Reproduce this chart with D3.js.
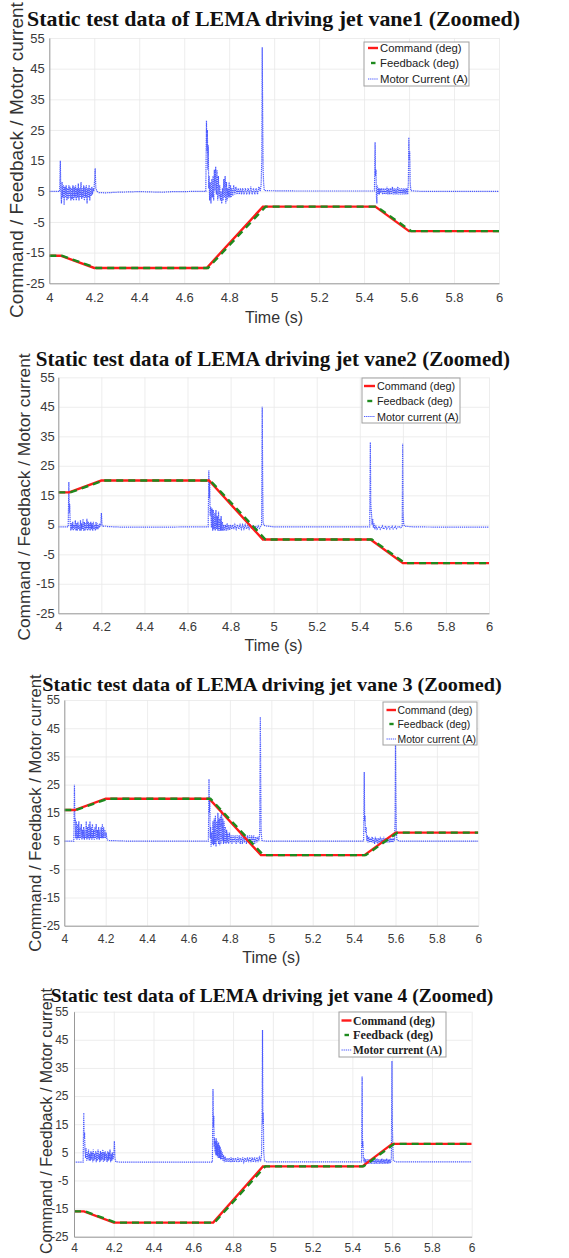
<!DOCTYPE html>
<html><head><meta charset="utf-8">
<script src="https://cdn.jsdelivr.net/npm/d3@7"></script>
<style>body{margin:0;background:#fff}svg{display:block}</style>
</head><body>
<svg id="chart" width="569" height="1258"></svg>
<script>
// ---------------- DATA ----------------
const titles = [
  "Static test data of LEMA driving jet vane1 (Zoomed)",
  "Static test data of LEMA driving jet vane2 (Zoomed)",
  "Static test data of LEMA driving jet vane 3 (Zoomed)",
  "Static test data of LEMA driving jet vane 4 (Zoomed)"
];
const yAxisLabel = "Command / Feedback / Motor current";
const xAxisLabel = "Time (s)";
const xTickValues = [4, 4.2, 4.4, 4.6, 4.8, 5, 5.2, 5.4, 5.6, 5.8, 6];
const xTickLabels = ["4", "4.2", "4.4", "4.6", "4.8", "5", "5.2", "5.4", "5.6", "5.8", "6"];
const yTickValues = [-25, -15, -5, 5, 15, 25, 35, 45, 55];
const yTickLabels = ["-25", "-15", "-5", "5", "15", "25", "35", "45", "55"];
const legend1 = ["Command (deg)", "Feedback (deg)", "Motor Current (A)"];
const legend2 = ["Command (deg)", "Feedback (deg)", "Motor current (A)"];
const legend3 = ["Command (deg)", "Feedback (deg)", "Motor current (A)"];
const legend4 = ["Command (deg)", "Feedback (deg)", "Motor current (A)"];

// Command / feedback [time, deg]
const command1 = [[4,-16],[4.05,-16],[4.2,-20],[4.7,-20],[4.95,0],[5.45,0],[5.6,-8],[6,-8]];
const feedback1 = [[4,-16],[4.056,-16],[4.21,-20],[4.706,-20],[4.962,0],[5.456,0],[5.61,-8],[6,-8]];
const command2 = [[4,16],[4.05,16],[4.2,20],[4.7,20],[4.95,0],[5.45,0],[5.6,-8],[6,-8]];
const feedback2 = [[4,16],[4.056,16],[4.21,20],[4.706,20],[4.962,0],[5.456,0],[5.61,-8],[6,-8]];
const command3 = [[4,16],[4.05,16],[4.2,20],[4.7,20],[4.95,0],[5.45,0],[5.6,8],[6,8]];
const feedback3 = [[4,16],[4.056,16],[4.21,20],[4.706,20],[4.962,0],[5.456,0],[5.61,8],[6,8]];
const command4 = [[4,-16],[4.05,-16],[4.2,-20],[4.7,-20],[4.95,0],[5.45,0],[5.6,8],[6,8]];
const feedback4 = [[4,-16],[4.056,-16],[4.21,-20],[4.706,-20],[4.962,0],[5.456,0],[5.61,8],[6,8]];

// Motor current [time, A]
const current1 = [[4.000,5.0],[4.046,5.0],[4.049,15],[4.051,6],[4.054,1],[4.057,8],[4.060,3],[4.063,7],[4.066,0.5],[4.069,6.5],[4.072,3],[4.075,7],[4.078,2],[4.081,6],[4.084,2.5],[4.087,7],[4.090,3],[4.093,6.5],[4.096,2],[4.099,6],[4.102,2.5],[4.105,7],[4.108,2],[4.111,6.5],[4.114,3],[4.117,7],[4.120,2],[4.123,6],[4.126,3],[4.129,7.5],[4.132,2],[4.135,6],[4.138,3],[4.141,8],[4.144,2.5],[4.147,6],[4.150,3],[4.153,7],[4.156,2],[4.159,6.5],[4.162,3],[4.165,7],[4.168,1],[4.171,6],[4.174,3],[4.177,7],[4.180,2],[4.183,6],[4.186,3.5],[4.189,6.5],[4.192,4],[4.195,6],[4.198,5],[4.201,8],[4.204,12.5],[4.207,6],[4.212,5],[4.22,4.6],[4.25,4.5],[4.30,4.7],[4.35,4.8],[4.40,4.9],[4.45,4.8],[4.50,4.7],[4.55,4.9],[4.60,4.9],[4.65,5.0],[4.696,5.0],
[4.699,28],[4.701,18],[4.703,25],[4.705,12],[4.707,20],[4.709,6],[4.711,10],[4.713,2],[4.716,8],[4.719,1],[4.722,9],[4.725,3],[4.728,10],[4.731,2],[4.734,12],[4.737,5],[4.740,13],[4.743,4],[4.746,12],[4.749,2],[4.752,10],[4.755,3],[4.758,7],[4.761,2],[4.764,5],[4.767,1],[4.770,6],[4.773,2],[4.776,9],[4.779,3],[4.782,10],[4.785,1],[4.788,8],[4.791,2],[4.794,6],[4.797,3],[4.800,8],[4.803,3],[4.806,7],[4.809,3],[4.812,6],[4.816,3.5],[4.820,7],[4.825,4],[4.830,6.5],[4.835,4],[4.840,6],[4.845,4],[4.850,6],[4.855,4],[4.860,6],[4.866,4],[4.872,6],[4.878,4],[4.884,6],[4.890,4],[4.896,6.5],[4.902,4],[4.908,6],[4.914,4],[4.920,6],[4.926,4],[4.932,6.5],[4.938,5],[4.942,7],[4.945,15],[4.947,52],[4.949,30],[4.951,12],[4.953,8],[4.956,5.3],[4.97,5.2],[5.1,5.1],[5.3,5.1],[5.446,5.1],
[5.449,21],[5.451,10],[5.453,12],[5.455,3],[5.457,1],[5.459,7],[5.462,4],[5.465,6],[5.468,4],[5.471,6],[5.474,4.5],[5.478,6],[5.482,4],[5.486,6],[5.490,4],[5.494,6],[5.498,4],[5.502,6.5],[5.506,4],[5.510,6],[5.514,4],[5.518,6],[5.522,4],[5.526,6.5],[5.530,4],[5.534,6],[5.538,4],[5.542,6],[5.546,4],[5.550,6.5],[5.554,4],[5.558,6],[5.562,4],[5.566,6],[5.570,4],[5.574,6],[5.578,4],[5.582,6],[5.586,4],[5.590,6],[5.594,4],[5.597,8],[5.599,22.5],[5.601,15],[5.603,18],[5.605,8],[5.608,5.2],[5.65,5.0],[6.0,5.0]];

const current2 = [[4.000,4.3],[4.046,4.3],[4.049,19.5],[4.051,9],[4.053,12],[4.055,6],[4.058,3],[4.061,5.5],[4.064,3.5],[4.067,6],[4.070,3],[4.073,5],[4.076,3.5],[4.079,6.5],[4.082,3],[4.085,5.5],[4.088,3],[4.091,6],[4.094,3.5],[4.097,5],[4.100,3],[4.103,6.5],[4.106,3],[4.109,5.5],[4.112,3.5],[4.115,7],[4.118,3],[4.121,6],[4.124,3],[4.127,5.5],[4.130,3.5],[4.133,7],[4.136,3],[4.139,6],[4.142,3.5],[4.145,5.5],[4.148,3],[4.151,6],[4.154,3.5],[4.157,5.5],[4.160,3],[4.163,6],[4.166,3.5],[4.169,5],[4.172,3],[4.175,6],[4.178,3.5],[4.181,5.5],[4.184,3.5],[4.187,5],[4.190,4],[4.193,5.5],[4.197,4.5],[4.200,9],[4.203,5],[4.207,4.5],[4.215,4.6],[4.23,4.4],[4.30,4.2],[4.40,4.2],[4.50,4.2],[4.60,4.3],[4.696,4.3],
[4.699,23.5],[4.701,14],[4.703,20],[4.705,8],[4.708,11],[4.711,4],[4.714,10.5],[4.717,3],[4.720,10],[4.723,3.5],[4.726,9],[4.729,3],[4.732,10],[4.735,3.5],[4.738,8],[4.741,3],[4.744,9.5],[4.747,3],[4.750,7],[4.753,3],[4.756,8],[4.759,3],[4.762,6],[4.765,3],[4.768,5],[4.772,3],[4.776,5],[4.780,3],[4.784,5.5],[4.788,3.2],[4.792,5],[4.796,3.3],[4.800,5],[4.805,3.5],[4.810,5],[4.815,3.5],[4.820,5],[4.826,3.5],[4.832,5],[4.838,3.5],[4.844,5],[4.850,3.5],[4.856,5],[4.862,3.6],[4.868,5],[4.874,3.6],[4.880,4.8],[4.886,3.6],[4.892,4.8],[4.898,3.6],[4.904,4.8],[4.910,3.6],[4.916,4.6],[4.922,3.6],[4.928,4.6],[4.934,3.8],[4.940,4.5],[4.944,5],[4.947,45],[4.949,20],[4.951,6],[4.955,4.8],[4.965,4.6],[5.0,4.3],[5.2,4.3],[5.446,4.3],
[5.449,33],[5.451,12],[5.453,10],[5.455,8],[5.457,5],[5.460,7],[5.463,4],[5.466,5.5],[5.470,3.5],[5.475,4.5],[5.480,3.5],[5.490,4.5],[5.495,3.5],[5.505,4.6],[5.510,3.5],[5.520,4.6],[5.525,3.6],[5.535,4.6],[5.540,3.6],[5.550,4.5],[5.555,3.6],[5.565,4.5],[5.570,3.7],[5.580,4.5],[5.590,4.0],[5.597,4.5],[5.599,32.5],[5.601,10],[5.604,5],[5.61,4.5],[5.65,4.3],[5.8,4.2],[6.0,4.2]];

const current3 = [[4.000,5],[4.046,5],[4.049,25],[4.051,12],[4.053,13],[4.055,6],[4.058,12],[4.061,5.5],[4.064,11],[4.067,6],[4.070,12],[4.073,5.5],[4.076,10],[4.079,6],[4.082,11],[4.085,5.5],[4.088,9],[4.091,6],[4.094,10],[4.097,5.5],[4.100,9],[4.103,6],[4.106,12],[4.109,5.5],[4.112,10],[4.115,6],[4.118,11],[4.121,5.5],[4.124,12],[4.127,6],[4.130,10],[4.133,5.5],[4.136,11],[4.139,6],[4.142,9],[4.145,5.5],[4.148,10],[4.151,6],[4.154,11],[4.157,5.5],[4.160,9],[4.163,6],[4.166,10],[4.169,5.5],[4.172,9],[4.175,6],[4.178,10],[4.181,6],[4.184,11],[4.187,6],[4.190,10],[4.193,6],[4.196,9],[4.199,6],[4.202,8],[4.206,5.5],[4.215,5.2],[4.30,5],[4.696,5],
[4.699,27],[4.701,15],[4.703,20],[4.705,6],[4.707,10],[4.709,3],[4.712,8],[4.715,4],[4.718,12],[4.721,3.5],[4.724,13],[4.727,4],[4.730,14],[4.733,3],[4.736,12],[4.739,5],[4.742,15],[4.745,4],[4.748,13],[4.751,3.5],[4.754,14],[4.757,4],[4.760,16],[4.763,5],[4.766,13],[4.769,4],[4.772,12],[4.775,4.5],[4.778,10],[4.781,4],[4.784,9],[4.787,4.5],[4.790,8],[4.794,4],[4.798,8],[4.802,4.5],[4.806,7],[4.810,4],[4.815,7],[4.820,4.5],[4.825,7],[4.830,4],[4.835,7],[4.840,4.5],[4.845,7],[4.850,4],[4.855,7.5],[4.860,4],[4.865,7],[4.870,4.5],[4.875,7],[4.880,4],[4.885,7],[4.890,4.5],[4.895,7],[4.900,4],[4.905,7],[4.910,4.5],[4.915,7],[4.920,4],[4.925,6.5],[4.930,4.5],[4.935,6.5],[4.940,5],[4.944,8],[4.947,49],[4.949,25],[4.951,8],[4.955,5.2],[4.97,5],[5.2,5],[5.446,5],
[5.449,29.5],[5.451,12],[5.453,14],[5.455,8],[5.458,10],[5.461,5],[5.464,7],[5.467,4.5],[5.471,6.5],[5.475,4.5],[5.479,6],[5.483,4.5],[5.487,6.5],[5.491,4.5],[5.495,6],[5.499,4],[5.503,6.5],[5.507,4.5],[5.511,6],[5.515,4],[5.519,6],[5.523,4.5],[5.527,6.5],[5.531,4.5],[5.535,6],[5.539,4],[5.543,6.5],[5.547,4.5],[5.551,6],[5.555,4.5],[5.559,6],[5.563,4.5],[5.567,6.5],[5.571,4.5],[5.575,6],[5.579,4.5],[5.583,6],[5.587,4.5],[5.591,6],[5.595,5],[5.598,12],[5.600,41],[5.602,20],[5.604,8],[5.607,5.3],[5.62,5],[6.0,5]];

const current4 = [[4.000,1.5],[4.046,1.5],[4.049,19],[4.051,10],[4.053,12],[4.055,6],[4.058,3],[4.061,6.5],[4.064,2],[4.067,5],[4.070,2.5],[4.073,6],[4.076,2],[4.079,4.5],[4.082,2],[4.085,5.5],[4.088,2.5],[4.091,5],[4.094,1.5],[4.097,6],[4.100,2],[4.103,4.5],[4.106,2.5],[4.109,5.5],[4.112,1.5],[4.115,5],[4.118,2],[4.121,6],[4.124,2.5],[4.127,4.5],[4.130,1.5],[4.133,5.5],[4.136,2],[4.139,5],[4.142,2.5],[4.145,6],[4.148,1.5],[4.151,5],[4.154,2],[4.157,5.5],[4.160,2.5],[4.163,4.5],[4.166,1.5],[4.169,5.5],[4.172,2],[4.175,5],[4.178,2.5],[4.181,6],[4.184,1.5],[4.187,4.5],[4.190,2],[4.193,5],[4.196,2.5],[4.200,4],[4.203,9],[4.206,3],[4.21,1.6],[4.25,1.5],[4.696,1.5],
[4.699,27.5],[4.701,14],[4.703,18],[4.705,7],[4.707,10],[4.709,5],[4.711,9],[4.713,4],[4.715,10],[4.717,4],[4.719,9],[4.721,3.5],[4.723,8],[4.725,3],[4.727,8.5],[4.729,3],[4.731,7.5],[4.733,3],[4.735,7],[4.737,2.5],[4.740,6],[4.743,2.5],[4.746,5],[4.749,2],[4.752,4],[4.756,1.5],[4.760,3.5],[4.765,1.5],[4.770,3],[4.775,1.5],[4.780,3],[4.785,1.5],[4.790,3.2],[4.795,1.5],[4.800,3],[4.806,1.5],[4.812,3],[4.818,1.5],[4.824,3.2],[4.830,1.5],[4.836,3],[4.842,1.5],[4.848,3.2],[4.854,1.5],[4.860,3],[4.866,1.5],[4.872,3.2],[4.878,1.5],[4.884,3.2],[4.890,1.5],[4.896,3.2],[4.902,1.5],[4.908,3.2],[4.914,1.5],[4.920,3.2],[4.926,1.5],[4.932,3.2],[4.938,1.8],[4.943,4],[4.946,19],[4.948,48.5],[4.950,15],[4.952,19],[4.954,5],[4.958,2],[4.97,1.6],[5.2,1.6],[5.446,1.6],
[5.449,32],[5.451,7],[5.453,9],[5.455,3],[5.458,1.5],[5.461,3],[5.464,1],[5.468,2.5],[5.472,1],[5.476,2.5],[5.480,1],[5.484,2.5],[5.488,1],[5.492,2.5],[5.496,1],[5.500,2.8],[5.504,1],[5.508,2.5],[5.512,1],[5.516,2.5],[5.520,1],[5.524,2.8],[5.528,1],[5.532,2.5],[5.536,1],[5.540,2.5],[5.544,1],[5.548,2.8],[5.552,1],[5.556,2.5],[5.560,1],[5.564,2.5],[5.568,1],[5.572,2.8],[5.576,1],[5.580,2.5],[5.584,1],[5.588,2.5],[5.592,1.2],[5.596,3],[5.599,37.5],[5.601,15],[5.603,8],[5.606,2],[5.62,1.6],[6.0,1.6]];

// ---------------- LAYOUT / STYLE ----------------
const SANS = "'Liberation Sans', Arial, sans-serif";
const SERIF = "'Liberation Serif', 'Times New Roman', serif";
const panels = [
  {title: titles[0], cmd: command1, fb: feedback1, cur: current1, legend: legend1,
   x0: 49.3, x1: 499, y0: 38, y1: 283.3, tY: 26.2, tX0: 27, tX1: 520, tSize: 22,
   tick: 13, xPad: 9.5, yPad: 4.5, ylabX: 16, ylabY: 160, ylabSize: 19, xlabY: 317, showXlab: true,
   leg: {x0: 364, y0: 42, x1: 469, y1: 86, rows: [48, 63, 79], sx0: 368, sx1: 378, tx: 380, size: 11.3, font: SANS, bold: false, tw: null}},
  {title: titles[1], cmd: command2, fb: feedback2, cur: current2, legend: legend2,
   x0: 58.3, x1: 489, y0: 377.3, y1: 613.3, tY: 366, tX0: 35.7, tX1: 510, tSize: 22,
   tick: 13, xPad: 8, yPad: 3.5, ylabX: 24, ylabY: 497, ylabSize: 17.3, xlabY: 645, showXlab: true,
   leg: {x0: 362, y0: 378, x1: 460, y1: 423, rows: [386, 401, 416.5], sx0: 364, sx1: 375, tx: 377, size: 10.8, font: SANS, bold: false, tw: null}},
  {title: titles[2], cmd: command3, fb: feedback3, cur: current3, legend: legend3,
   x0: 64.3, x1: 478.3, y0: 700, y1: 925.7, tY: 690.7, tX0: 42.3, tX1: 501.7, tSize: 19.5,
   tick: 12, xPad: 9, yPad: 4.3, ylabX: 35, ylabY: 813, ylabSize: 16.7, xlabY: 957, showXlab: true,
   leg: {x0: 383, y0: 702, x1: 477, y1: 745, rows: [710, 724, 739], sx0: 386.5, sx1: 396, tx: 397.5, size: 10.4, font: SANS, bold: false, tw: null}},
  {title: titles[3], cmd: command4, fb: feedback4, cur: current4, legend: legend4,
   x0: 74, x1: 471.7, y0: 1011.7, y1: 1236.7, tY: 1001.7, tX0: 50.7, tX1: 493.3, tSize: 19,
   tick: 12, xPad: 7, yPad: 5.5, ylabX: 46, ylabY: 1121, ylabSize: 16, xlabY: 1272, showXlab: false,
   leg: {x0: 339, y0: 1012, x1: 446, y1: 1057, rows: [1020.5, 1035, 1050], sx0: 341.5, sx1: 351.5, tx: 353, size: 12.5, font: SERIF, bold: true, tw: [82, 80, 89]}}
];

const CUR_COLOR = "#2233ff";
const svg = d3.select("#chart");
svg.append("rect").attr("width", 569).attr("height", 1258).attr("fill", "#fff");

panels.forEach((p, pi) => {
  const x = d3.scaleLinear().domain([4, 6]).range([p.x0, p.x1]);
  const y = d3.scaleLinear().domain([-25, 55]).range([p.y1, p.y0]);
  const g = svg.append("g");
  const W = p.x1 - p.x0, H = p.y1 - p.y0;

  // grid via axes
  const gx = g.append("g").attr("transform", `translate(0,${p.y1})`)
    .call(d3.axisBottom(x).tickValues(xTickValues).tickSize(-H).tickFormat(""));
  gx.select(".domain").remove();
  gx.selectAll(".tick line").attr("stroke", "#e8e8e8").attr("stroke-width", 0.8);
  const gy = g.append("g").attr("transform", `translate(${p.x0},0)`)
    .call(d3.axisLeft(y).tickValues(yTickValues).tickSize(-W).tickFormat(""));
  gy.select(".domain").remove();
  gy.selectAll(".tick line").attr("stroke", "#e8e8e8").attr("stroke-width", 0.8);

  // clip
  const cid = "clip" + pi;
  g.append("clipPath").attr("id", cid).append("rect")
    .attr("x", p.x0).attr("y", p.y0 - 1).attr("width", W).attr("height", H + 1);
  const plot = g.append("g").attr("clip-path", `url(#${cid})`);
  const line = d3.line().x(d => x(d[0])).y(d => y(d[1]));

  plot.append("path").datum(p.cur).attr("d", line).attr("fill", "none")
    .attr("stroke", CUR_COLOR).attr("stroke-width", 1.2).attr("stroke-dasharray", "1.3,0.8")
    .attr("stroke-opacity", 0.8);
  plot.append("path").datum(p.cmd).attr("d", line).attr("fill", "none")
    .attr("stroke", "#ff1a1a").attr("stroke-width", 2.4);
  plot.append("path").datum(p.fb).attr("d", line).attr("fill", "none")
    .attr("stroke", "#1e8a1e").attr("stroke-width", 2.4).attr("stroke-dasharray", "7,5");

  // axes with labels
  const ax = g.append("g").attr("transform", `translate(0,${p.y1})`)
    .call(d3.axisBottom(x).tickValues(xTickValues).tickFormat((d, i) => xTickLabels[i]).tickSize(0).tickPadding(p.xPad));
  ax.select(".domain").attr("stroke", "#999").attr("stroke-width", 1);
  ax.selectAll("text").attr("font-family", SANS).attr("font-size", p.tick).attr("fill", "#3a3a3a");
  const ay = g.append("g").attr("transform", `translate(${p.x0},0)`)
    .call(d3.axisLeft(y).tickValues(yTickValues).tickFormat((d, i) => yTickLabels[i]).tickSize(0).tickPadding(p.yPad));
  ay.select(".domain").attr("stroke", "#999").attr("stroke-width", 1);
  ay.selectAll("text").attr("font-family", SANS).attr("font-size", p.tick).attr("fill", "#3a3a3a");

  // y label
  g.append("text").attr("transform", `translate(${p.ylabX},${p.ylabY}) rotate(-90)`)
    .attr("text-anchor", "middle").attr("dominant-baseline", "central")
    .attr("font-family", SANS).attr("font-size", p.ylabSize).attr("fill", "#333")
    .text(yAxisLabel);

  // x label
  if (p.showXlab) {
    g.append("text").attr("x", (p.x0 + p.x1) / 2).attr("y", p.xlabY)
      .attr("text-anchor", "middle").attr("dominant-baseline", "central")
      .attr("font-family", SANS).attr("font-size", 16).attr("fill", "#333")
      .text(xAxisLabel);
  }

  // title
  g.append("text").attr("x", p.tX0).attr("y", p.tY)
    .attr("font-family", SERIF).attr("font-weight", "bold").attr("font-size", p.tSize)
    .attr("fill", "#111")
    .attr("textLength", p.tX1 - p.tX0).attr("lengthAdjust", "spacingAndGlyphs")
    .text(p.title);

  // legend
  const L = p.leg;
  const lg = g.append("g");
  lg.append("rect").attr("x", L.x0).attr("y", L.y0).attr("width", L.x1 - L.x0).attr("height", L.y1 - L.y0)
    .attr("fill", "#fff").attr("stroke", "#a0a0a0").attr("stroke-width", 1);
  const sty = [
    {c: "#ff1a1a", w: 2.4, da: null, op: 1, s0: L.sx0, s1: L.sx1},
    {c: "#1e8a1e", w: 2.4, da: null, op: 1, s0: L.sx0 + (L.sx1 - L.sx0) * 0.3, s1: L.sx1 - (L.sx1 - L.sx0) * 0.25},
    {c: CUR_COLOR, w: 1.2, da: "1.3,0.8", op: 0.8, s0: L.sx0, s1: L.sx1}
  ];
  p.legend.forEach((lab, i) => {
    const s = sty[i];
    lg.append("line").attr("x1", s.s0).attr("x2", s.s1).attr("y1", L.rows[i]).attr("y2", L.rows[i])
      .attr("stroke", s.c).attr("stroke-width", s.w).attr("stroke-dasharray", s.da).attr("stroke-opacity", s.op);
    const t = lg.append("text").attr("x", L.tx).attr("y", L.rows[i])
      .attr("dominant-baseline", "central")
      .attr("font-family", L.font).attr("font-size", L.size).attr("fill", "#222")
      .attr("font-weight", L.bold ? "bold" : "normal").text(lab);
    if (L.tw) t.attr("textLength", L.tw[i]).attr("lengthAdjust", "spacingAndGlyphs");
  });
});
</script>
</body></html>
